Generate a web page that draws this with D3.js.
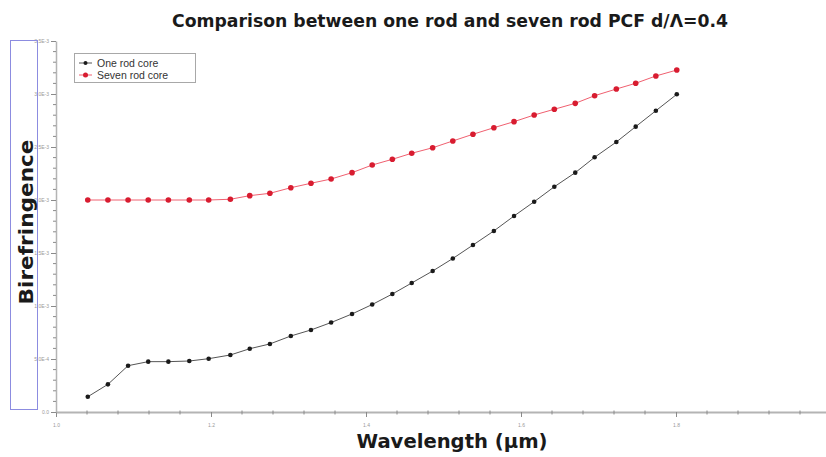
<!DOCTYPE html>
<html>
<head>
<meta charset="utf-8">
<script src="https://cdn.jsdelivr.net/npm/d3@7"></script>
<style>
  html, body { margin: 0; padding: 0; background: #fff; }
  svg { display: block; }
</style>
</head>
<body>
<script>
// Wavelength sweep (µm) shared by both fibre designs
const wavelength = [1.041, 1.067, 1.093, 1.119, 1.145, 1.172, 1.197, 1.225, 1.250, 1.276,
                    1.303, 1.329, 1.355, 1.382, 1.408, 1.434, 1.459, 1.486, 1.512, 1.538,
                    1.565, 1.591, 1.617, 1.643, 1.670, 1.695, 1.723, 1.748, 1.774, 1.801];

// Birefringence of the single-rod core PCF
const oneRod = [0.000144, 0.000261, 0.000437, 0.000475, 0.000475, 0.000481, 0.000503, 0.000538, 0.000597, 0.000642,
                0.000717, 0.000774, 0.000844, 0.000925, 0.001014, 0.001113, 0.001217, 0.001330, 0.001448, 0.001575,
                0.001708, 0.001849, 0.001984, 0.002125, 0.002258, 0.002403, 0.002547, 0.002692, 0.002842, 0.002997];

// Birefringence of the seven-rod core PCF
const sevenRod = [0.002000, 0.002000, 0.002000, 0.002000, 0.002000, 0.002000, 0.002000, 0.002007, 0.002041, 0.002063,
                  0.002116, 0.002158, 0.002198, 0.002258, 0.002330, 0.002384, 0.002441, 0.002493, 0.002557, 0.002620,
                  0.002682, 0.002739, 0.002802, 0.002856, 0.002912, 0.002984, 0.003047, 0.003101, 0.003170, 0.003226];

const seriesNames = ["One rod core", "Seven rod core"];

const xTickValues = [1.0, 1.2, 1.4, 1.6, 1.8];
const xTickLabels = ["1.0", "1.2", "1.4", "1.6", "1.8"];
const yTickValues = [0, 0.0005, 0.001, 0.0015, 0.002, 0.0025, 0.003, 0.0035];
const yTickLabels = ["0.0", "5.0E-4", "1.0E-3", "1.5E-3", "2.0E-3", "2.5E-3", "3.0E-3", "3.5E-3"];

const W = 826, H = 457;
const svg = d3.select("body").append("svg").attr("width", W).attr("height", H);

const plot = { left: 56, right: 831, top: 41, bottom: 412 };

const x = d3.scaleLinear().domain([1.0, 2.0]).range([plot.left, plot.right]);
const y = d3.scaleLinear().domain([0, 0.0035]).range([plot.bottom, plot.top]);

// Minor ticks: five subdivisions per major interval
const xMinor = d3.range(0, 26).map(i => 1.0 + i * 0.04).filter(v => !xTickValues.some(t => Math.abs(t - v) < 1e-9));
const yMinor = d3.range(0, 36).map(i => i * 0.0001).filter(v => !yTickValues.some(t => Math.abs(t - v) < 1e-12));

const axisColor = "#b4b4b4";
const labelColor = "#9a9a9a";

// X axis
const gx = svg.append("g").attr("transform", `translate(0,${plot.bottom})`);
gx.call(d3.axisBottom(x).tickValues(xTickValues).tickFormat((d, i) => xTickLabels[i]).tickSizeInner(5).tickSizeOuter(0))
  .call(g => g.select(".domain").attr("stroke", axisColor).attr("stroke-width", 2))
  .call(g => g.selectAll(".tick line").attr("stroke", "#8a8a8a"))
  .call(g => g.selectAll(".tick text").attr("fill", labelColor).attr("font-size", 5).attr("font-family", "Liberation Sans").attr("dy", "1.4em"));
gx.selectAll(".minor").data(xMinor).enter().append("line")
  .attr("x1", d => x(d)).attr("x2", d => x(d)).attr("y1", -1.5).attr("y2", 2.5)
  .attr("stroke", "#8a8a8a").attr("stroke-width", 1);

// Y axis
const gy = svg.append("g").attr("transform", `translate(${plot.left},0)`);
gy.call(d3.axisLeft(y).tickValues(yTickValues).tickFormat((d, i) => yTickLabels[i]).tickSizeInner(5).tickSizeOuter(0).tickPadding(2))
  .call(g => g.select(".domain").attr("stroke", axisColor).attr("stroke-width", 1.5))
  .call(g => g.selectAll(".tick line").attr("stroke", "#8a8a8a"))
  .call(g => g.selectAll(".tick text").attr("fill", labelColor).attr("font-size", 5).attr("font-family", "Liberation Sans"));
gy.selectAll(".minor").data(yMinor).enter().append("line")
  .attr("x1", -3).attr("x2", 0).attr("y1", d => y(d)).attr("y2", d => y(d))
  .attr("stroke", "#8a8a8a").attr("stroke-width", 1);

// Series
const series = [
  { name: seriesNames[0], values: oneRod, line: "#555555", dot: "#1a1a1a", r: 2.3, w: 1 },
  { name: seriesNames[1], values: sevenRod, line: "#f06070", dot: "#d81c30", r: 2.8, w: 1 }
];

const line = d3.line().x((d, i) => x(wavelength[i])).y(d => y(d));

series.forEach(s => {
  svg.append("path").datum(s.values)
    .attr("d", line).attr("fill", "none")
    .attr("stroke", s.line).attr("stroke-width", s.w);
  svg.append("g").selectAll("circle").data(s.values).enter().append("circle")
    .attr("cx", (d, i) => x(wavelength[i])).attr("cy", d => y(d))
    .attr("r", s.r).attr("fill", s.dot);
});

// Legend
const lg = svg.append("g");
lg.append("rect").attr("x", 74.5).attr("y", 53.5).attr("width", 121).attr("height", 29)
  .attr("fill", "#fff").attr("stroke", "#a8a8a8").attr("stroke-width", 1);
series.forEach((s, i) => {
  const cy = 63 + i * 12;
  lg.append("line").attr("x1", 79).attr("x2", 92).attr("y1", cy).attr("y2", cy)
    .attr("stroke", s.line).attr("stroke-width", 1);
  lg.append("circle").attr("cx", 85.5).attr("cy", cy).attr("r", s.r - 0.3).attr("fill", s.dot);
  lg.append("text").attr("x", 97).attr("y", cy + 3.5).text(s.name)
    .attr("font-family", "Liberation Sans Narrow, Liberation Sans").attr("font-size", 10.5)
    .attr("fill", "#333");
});

// Titles
svg.append("text").attr("x", 450).attr("y", 27).attr("text-anchor", "middle")
  .attr("font-family", "DejaVu Sans").attr("font-weight", "bold").attr("font-size", 18)
  .attr("textLength", 556).attr("lengthAdjust", "spacingAndGlyphs")
  .attr("fill", "#1a1a1a").text("Comparison  between one rod and seven rod PCF d/Λ=0.4");

svg.append("text").attr("x", 452).attr("y", 448).attr("text-anchor", "middle")
  .attr("font-family", "DejaVu Sans").attr("font-weight", "bold").attr("font-size", 19)
  .attr("textLength", 191).attr("lengthAdjust", "spacingAndGlyphs")
  .attr("fill", "#1a1a1a").text("Wavelength (µm)");

svg.append("rect").attr("x", 10.5).attr("y", 40.5).attr("width", 27).attr("height", 369)
  .attr("fill", "none").attr("stroke", "#8c8ce0").attr("stroke-width", 1);

svg.append("text").attr("transform", "translate(33,222) rotate(-90)").attr("text-anchor", "middle")
  .attr("font-family", "DejaVu Sans").attr("font-weight", "bold").attr("font-size", 19)
  .attr("textLength", 165).attr("lengthAdjust", "spacingAndGlyphs")
  .attr("fill", "#1a1a1a").text("Birefringence");
</script>
</body>
</html>
